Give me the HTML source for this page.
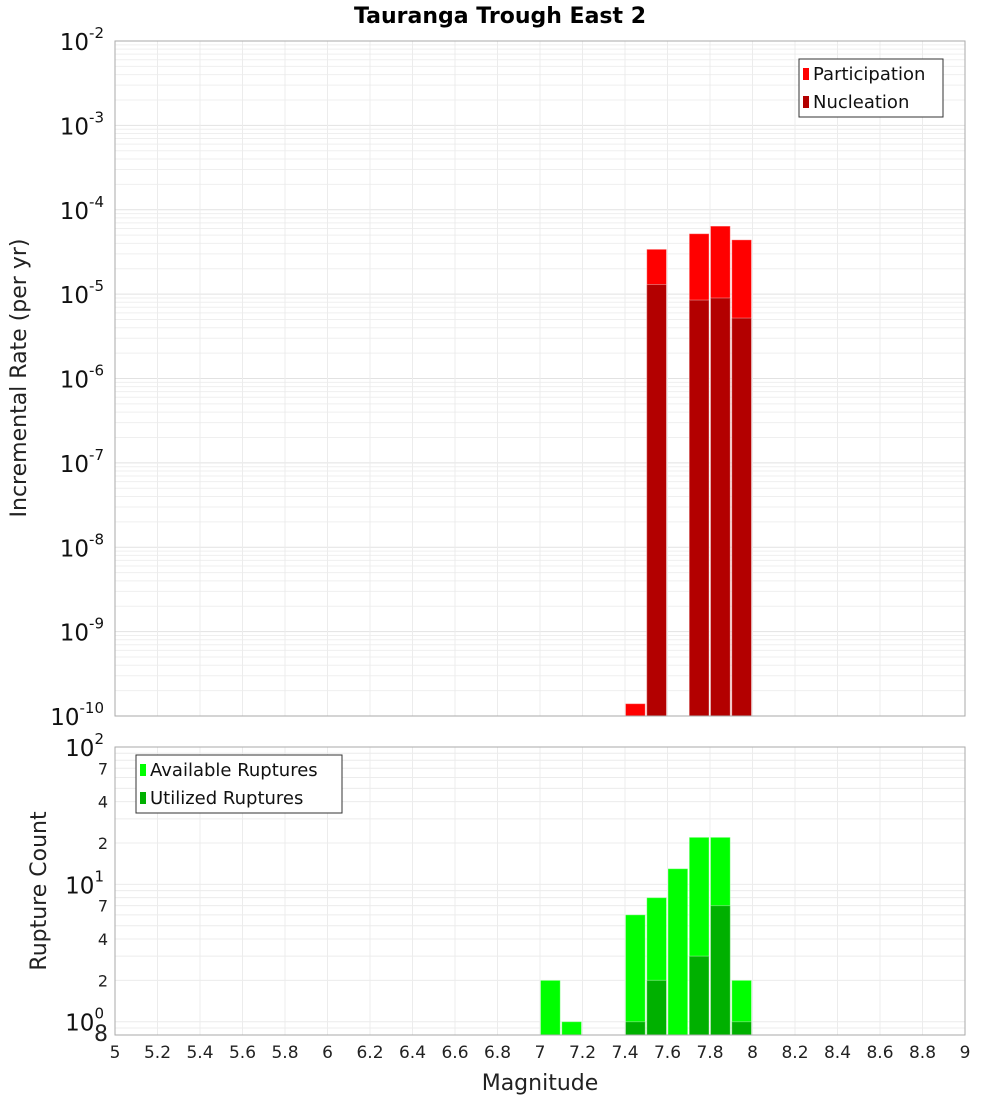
<!DOCTYPE html>
<html><head><meta charset="utf-8"><style>
body{margin:0;background:#fff;font-family:"Liberation Sans","DejaVu Sans",sans-serif}
svg text{font-family:"DejaVu Sans","Liberation Sans",sans-serif}
</style></head><body>
<svg id="c" width="1000" height="1100" xmlns="http://www.w3.org/2000/svg">
<text x="500" y="23" text-anchor="middle" font-size="22" font-weight="bold">Tauranga Trough East 2</text>
<g id="top"></g>
<g id="bot"></g>
<text transform="translate(26,378) rotate(-90)" text-anchor="middle" font-size="22" fill="#222">Incremental Rate (per yr)</text>
<text transform="translate(46,891) rotate(-90)" text-anchor="middle" font-size="22" fill="#222">Rupture Count</text>
<text x="540" y="1090" text-anchor="middle" font-size="22" fill="#222">Magnitude</text>
</svg>
<script>
const mags=[7.05,7.15,7.45,7.55,7.65,7.75,7.85,7.95];
const participation=[0,0,1.4e-10,3.4e-5,0,5.2e-5,6.4e-5,4.4e-5];
const nucleation=[0,0,0,1.3e-5,0,8.5e-6,9e-6,5.2e-6];
const available=[2,1,6,8,13,22,22,2];
const utilized=[0,0,1,2,0,3,7,1];
const xTicks=[5,5.2,5.4,5.6,5.8,6,6.2,6.4,6.6,6.8,7,7.2,7.4,7.6,7.8,8,8.2,8.4,8.6,8.8,9];
const topExps=[-2,-3,-4,-5,-6,-7,-8,-9,-10];
const botMinorLabels=[[7,"7"],[4,"4"],[2,"2"],[70,"7"],[40,"4"],[20,"2"],[0.8,"8"]];
const NS="http://www.w3.org/2000/svg";
const L=115,R=965;
const X=m=>L+(m-5)/4*(R-L);
const T0=41,T1=716,B0=747,B1=1035;
const YT=v=>T0+(-2-Math.log10(v))/8*(T1-T0);
const bmin=Math.log10(0.8);
const YB=v=>B0+(2-Math.log10(v))/(2-bmin)*(B1-B0);
function el(p,t,a){const e=document.createElementNS(NS,t);for(const k in a)e.setAttribute(k,a[k]);p.appendChild(e);return e;}
const gTop=document.getElementById('top'),gBot=document.getElementById('bot');
el(gTop,'rect',{x:L,y:T0,width:R-L,height:T1-T0,fill:'#fff'});
el(gBot,'rect',{x:L,y:B0,width:R-L,height:B1-B0,fill:'#fff'});
for(let e=-10;e<-2;e++)for(let k=1;k<10;k++){const y=YT(k*Math.pow(10,e));el(gTop,'line',{x1:L,x2:R,y1:y,y2:y,stroke:k==1?'#e2e2e2':'#efefef','stroke-width':1});}
for(let e=-1;e<2;e++)for(let k=1;k<10;k++){const v=k*Math.pow(10,e);if(v<0.8)continue;const y=YB(v);el(gBot,'line',{x1:L,x2:R,y1:y,y2:y,stroke:'#ececec'});}
xTicks.forEach(t=>{const x=X(t);el(gTop,'line',{x1:x,x2:x,y1:T0,y2:T1,stroke:'#ececec'});el(gBot,'line',{x1:x,x2:x,y1:B0,y2:B1,stroke:'#ececec'});
 const tx=el(gBot,'text',{x:x,y:1058,'text-anchor':'middle','font-size':17,fill:'#222'});tx.textContent=String(t);
 
 });
function bar(g,m,y,base,fill,name){const x0=X(m-0.05),x1=X(m+0.05);const r=el(g,'rect',{x:x0+0.5,y:y,width:x1-x0-1.5,height:base-y,fill:fill,stroke:'rgba(255,255,255,0.35)','stroke-width':1});
 
 }
mags.forEach((m,i)=>{if(participation[i]>0)bar(gTop,m,YT(participation[i]),T1,'#ff0000','participation-bar');
 if(nucleation[i]>0)bar(gTop,m,YT(nucleation[i]),T1,'#b30000','nucleation-bar');
 if(available[i]>0)bar(gBot,m,YB(available[i]),B1,'#00ff00','available-bar');
 if(utilized[i]>0)bar(gBot,m,YB(utilized[i]),B1,'#00b000','utilized-bar');});
el(gTop,'rect',{x:L,y:T0,width:R-L,height:T1-T0,fill:'none',stroke:'#aaa'});
el(gBot,'rect',{x:L,y:B0,width:R-L,height:B1-B0,fill:'none',stroke:'#aaa'});
function pow(g,y,exp,name){const t=el(g,'text',{x:104,y:y+9,'text-anchor':'end','font-size':23,fill:'#111'});
 
 
 t.innerHTML='10<tspan dy="-12" font-size="15">'+exp+'</tspan>';}
topExps.forEach(e=>pow(gTop,YT(Math.pow(10,e)),e,'y-tick-label-rate'));
[2,1,0].forEach(e=>pow(gBot,YB(Math.pow(10,e)),e,'y-tick-label-count'));
botMinorLabels.forEach(([v,s])=>{const t=el(gBot,'text',{x:108,y:YB(v)+6,'text-anchor':'end','font-size':v==0.8?22:16,fill:'#222'});t.textContent=s;
 
 });
function legend(g,x,y,w,items,name){const lg=el(g,'g',{});
 
 
 el(lg,'rect',{x:x,y:y,width:w,height:58,fill:'#fff',stroke:'#333'});
 items.forEach(([c,s],i)=>{el(lg,'rect',{x:x+4,y:y+9+i*28,width:6,height:12,fill:c});const t=el(lg,'text',{x:x+14,y:y+21+i*28,'font-size':18,fill:'#111'});t.textContent=s;
 
 });}
legend(gTop,799,59,144,[['#ff0000','Participation'],['#b30000','Nucleation']],'rate-legend');
legend(gBot,136,755,206,[['#00ff00','Available Ruptures'],['#00b000','Utilized Ruptures']],'count-legend');
</script>
</body></html>
